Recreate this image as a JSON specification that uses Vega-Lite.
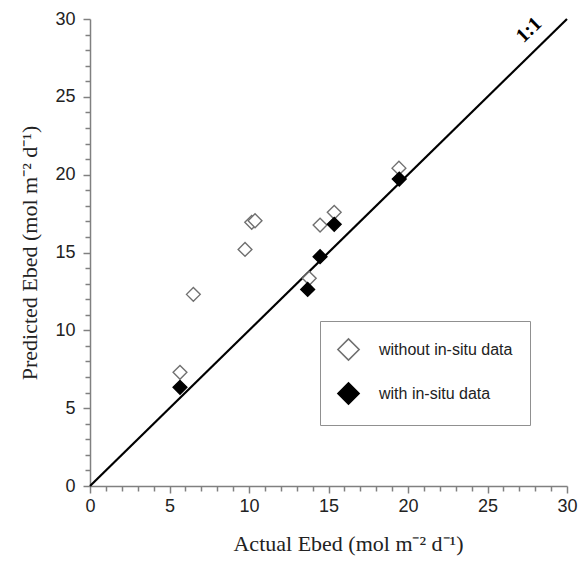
{
  "$schema": "https://vega.github.io/schema/vega-lite/v6.json",
  "autosize": {"type": "none"},
  "padding": {"left": 90, "top": 19, "right": 13, "bottom": 77},
  "width": 477,
  "height": 467,
  "background": "white",
  "config": {"view": {"stroke": null}},
  "encoding": {
    "x": {"field": "actual", "type": "quantitative", "scale": {"domain": [0, 30], "nice": false},
      "axis": {
        "title": "Actual Ebed (mol m⁻² d⁻¹)",
        "values": [0,1,2,3,4,5,6,7,8,9,10,11,12,13,14,15,16,17,18,19,20,21,22,23,24,25,26,27,28,29,30],
        "labelExpr": "datum.value % 5 === 0 ? datum.label : ''",
        "labelOverlap": false, "labelBound": false, "labelFlush": false,
        "tickSize": {"condition": {"test": "datum.value % 5 === 0", "value": 7}, "value": 5},
        "grid": false,
        "domainColor": "#808080", "domainWidth": 1.5, "tickColor": "#808080", "tickWidth": 1.5,
        "labelFont": "Liberation Sans", "labelFontSize": 18, "labelColor": "#222", "labelPadding": 4,
        "titleFont": "Liberation Serif", "titleFontSize": 22, "titleFontWeight": "normal", "titleColor": "#222", "titlePadding": 18,
        "titleX": 258
      }},
    "y": {"field": "predicted", "type": "quantitative", "scale": {"domain": [0, 30], "nice": false},
      "axis": {
        "title": "Predicted Ebed (mol m⁻² d⁻¹)",
        "values": [0,1,2,3,4,5,6,7,8,9,10,11,12,13,14,15,16,17,18,19,20,21,22,23,24,25,26,27,28,29,30],
        "labelExpr": "datum.value % 5 === 0 ? datum.label : ''",
        "labelOverlap": false, "labelBound": false, "labelFlush": false,
        "tickSize": {"condition": {"test": "datum.value % 5 === 0", "value": 7}, "value": 5},
        "grid": false,
        "domainColor": "#808080", "domainWidth": 1.5, "tickColor": "#808080", "tickWidth": 1.5,
        "labelFont": "Liberation Sans", "labelFontSize": 18, "labelColor": "#222", "labelPadding": 8,
        "titleFont": "Liberation Serif", "titleFontSize": 22, "titleFontWeight": "normal", "titleColor": "#222", "titlePadding": 13
      }}
  },
  "layer": [
    {
      "data": {"values": [{"actual": 0, "predicted": 0}, {"actual": 30, "predicted": 30}]},
      "mark": {"type": "line", "color": "black", "strokeWidth": 2.2}
    },
    {
      "data": {"values": [{"actual": 27.6, "predicted": 29.3, "label": "1:1"}]},
      "mark": {"type": "text", "angle": -44, "font": "Liberation Serif", "fontWeight": "bold", "fontSize": 20, "color": "black"},
      "encoding": {"text": {"field": "label"}}
    },
    {
      "data": {"values": [
        {"series": "without in-situ data", "actual": 5.66, "predicted": 7.30},
        {"series": "without in-situ data", "actual": 6.50, "predicted": 12.31},
        {"series": "without in-situ data", "actual": 9.75, "predicted": 15.20},
        {"series": "without in-situ data", "actual": 10.17, "predicted": 16.94},
        {"series": "without in-situ data", "actual": 10.38, "predicted": 17.04},
        {"series": "without in-situ data", "actual": 14.47, "predicted": 16.76},
        {"series": "without in-situ data", "actual": 15.36, "predicted": 17.58},
        {"series": "without in-situ data", "actual": 13.79, "predicted": 13.34},
        {"series": "without in-situ data", "actual": 19.43, "predicted": 20.42},
        {"series": "with in-situ data", "actual": 5.66, "predicted": 6.34},
        {"series": "with in-situ data", "actual": 13.69, "predicted": 12.63},
        {"series": "with in-situ data", "actual": 14.47, "predicted": 14.73},
        {"series": "with in-situ data", "actual": 15.36, "predicted": 16.81},
        {"series": "with in-situ data", "actual": 19.45, "predicted": 19.72}
      ]},
      "mark": {"type": "point", "shape": "diamond", "filled": true, "size": 190, "strokeWidth": 1.4, "opacity": 1},
      "encoding": {
        "fill": {"field": "series", "type": "nominal",
          "scale": {"domain": ["without in-situ data", "with in-situ data"], "range": ["white", "black"]},
          "legend": {
            "title": null, "orient": "none", "legendX": 230, "legendY": 302,
            "symbolType": "diamond", "symbolSize": 450, "symbolStrokeWidth": 1.6,
            "labelFont": "Liberation Sans", "labelFontSize": 16, "labelColor": "#222", "labelOffset": 19,
            "rowPadding": 15, "padding": 17, "strokeColor": "#909090", "fillColor": "white",
            "encode": {"symbols": {"update": {"stroke": {"value": "black"}, "strokeWidth": {"value": 1.6}, "opacity": {"value": 1}}}}
          }},
        "stroke": {"field": "series", "type": "nominal",
          "scale": {"domain": ["without in-situ data", "with in-situ data"], "range": ["#707070", "black"]},
          "legend": null}
      }
    }
  ]
}
